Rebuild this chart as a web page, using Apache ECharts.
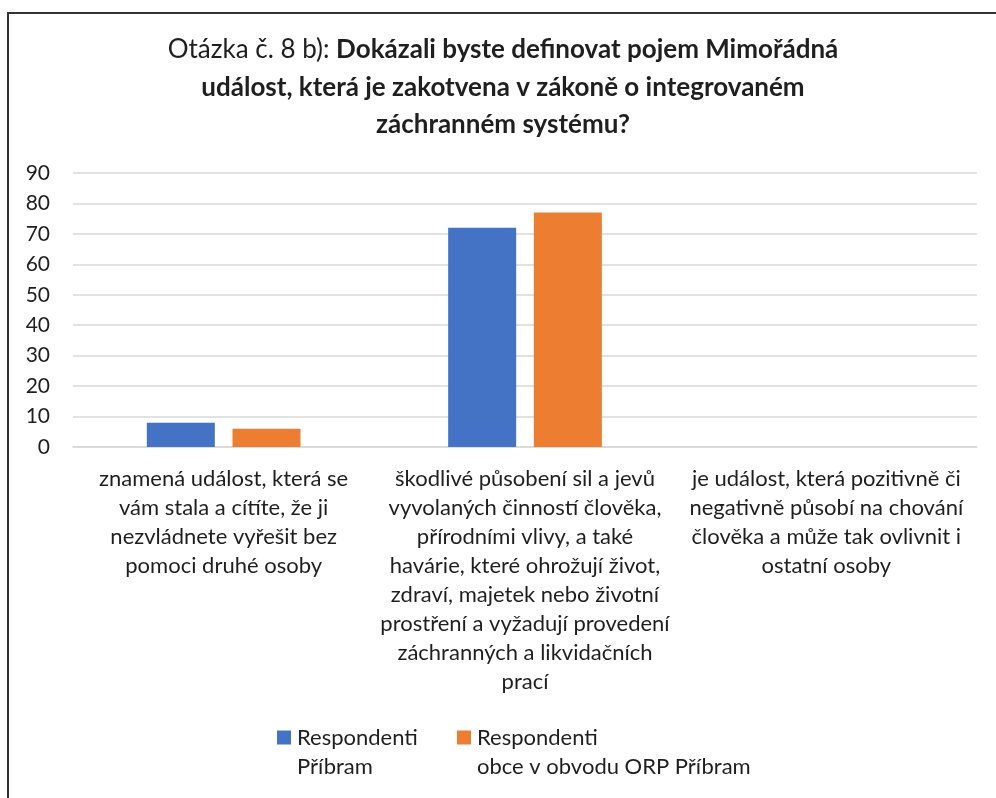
<!DOCTYPE html>
<html>
<head>
<meta charset="utf-8">
<script src="https://cdn.jsdelivr.net/npm/echarts@6/dist/echarts.min.js"></script>
<style>
  html, body { margin: 0; padding: 0; background: #fff; }
  #main { width: 996px; height: 798px; }
</style>
</head>
<body>
<div id="main"></div>
<script>
// data
var categories = [
    'znamená událost, která se\nvám stala a cítíte, že ji\nnezvládnete vyřešit bez\npomoci druhé osoby',
    'škodlivé působení sil a jevů\nvyvolaných činností člověka,\npřírodními vlivy, a také\nhavárie, které ohrožují život,\nzdraví, majetek nebo životní\nprostření a vyžadují provedení\nzáchranných a likvidačních\nprací',
    'je událost, která pozitivně či\nnegativně působí na chování\nčlověka a může tak ovlivnit i\nostatní osoby'
];
var seriesNames = ['Respondenti\nPříbram', 'Respondenti\nobce v obvodu ORP Příbram'];
var pribram = [8, 72, 0];
var obceOrp = [6, 77, 0];
var yTicks = { min: 0, max: 90, interval: 10 };

var font = 'Lato, "Open Sans", sans-serif';
var txt = '#1f1f1f';

var chartDom = document.getElementById('main');
var myChart = echarts.init(chartDom);
var option;

// blank first line so the legend square lines up with the first text line
function legendText(name){
    return '\n' + name;
}

option = {
    backgroundColor: '#fff',
    textStyle: { fontFamily: font },
    title: {
        text: '{n|Otázka č. 8 b): }{b|Dokázali byste definovat pojem Mimořádná}\n{b|událost, která je zakotvena v zákoně o integrovaném}\n{b|záchranném systému?}',
        left: 498,
        top: 26,
        textAlign: 'center',
        textStyle: {
            fontFamily: font,
            fontSize: 26,
            lineHeight: 37.5,
            color: txt,
            rich: {
                n: { fontFamily: font, fontSize: 26, fontWeight: 'normal', color: txt, lineHeight: 37.5 },
                b: { fontFamily: font, fontSize: 26, fontWeight: 'bold', color: txt, lineHeight: 37.5 }
            }
        }
    },
    legend: [{
        data: [seriesNames[0]],
        left: 272,
        top: 689,
        itemWidth: 14,
        itemHeight: 14,
        icon: 'rect',
        formatter: legendText,
        textStyle: { fontFamily: font, fontSize: 22, color: txt, lineHeight: 29, padding: [0, 0, 0, 1] }
    }, {
        data: [seriesNames[1]],
        left: 452,
        top: 689,
        itemWidth: 14,
        itemHeight: 14,
        icon: 'rect',
        formatter: legendText,
        textStyle: { fontFamily: font, fontSize: 22, color: txt, lineHeight: 29, padding: [0, 0, 0, 1] }
    }],
    grid: {
        left: 73,
        right: 19,
        top: 173,
        bottom: 351,
        containLabel: false
    },
    xAxis: {
        type: 'category',
        data: categories,
        axisTick: { show: false },
        axisLine: { lineStyle: { color: '#d9d9d9', width: 1.5 } },
        axisLabel: {
            interval: 0,
            margin: 17,
            fontFamily: font,
            fontSize: 22,
            lineHeight: 29,
            color: txt,
            align: 'center'
        }
    },
    yAxis: {
        type: 'value',
        min: yTicks.min,
        max: yTicks.max,
        interval: yTicks.interval,
        axisLine: { show: false },
        axisTick: { show: false },
        splitLine: { lineStyle: { color: '#d9d9d9', width: 1.5 } },
        axisLabel: { margin: 23, fontFamily: font, fontSize: 21, color: txt }
    },
    series: [{
        name: seriesNames[0],
        type: 'bar',
        data: pribram,
        barWidth: 68,
        barGap: '26%',
        itemStyle: { color: '#4472C4' }
    }, {
        name: seriesNames[1],
        type: 'bar',
        data: obceOrp,
        barWidth: 68,
        itemStyle: { color: '#ED7D31' }
    }],
    graphic: [{
        // outer frame of the chart
        type: 'rect',
        shape: { x: 8, y: 13, width: 1000, height: 800 },
        style: { fill: 'none', stroke: '#333', lineWidth: 2 },
        silent: true
    }]
};
option && myChart.setOption(option);
</script>
</body>
</html>
